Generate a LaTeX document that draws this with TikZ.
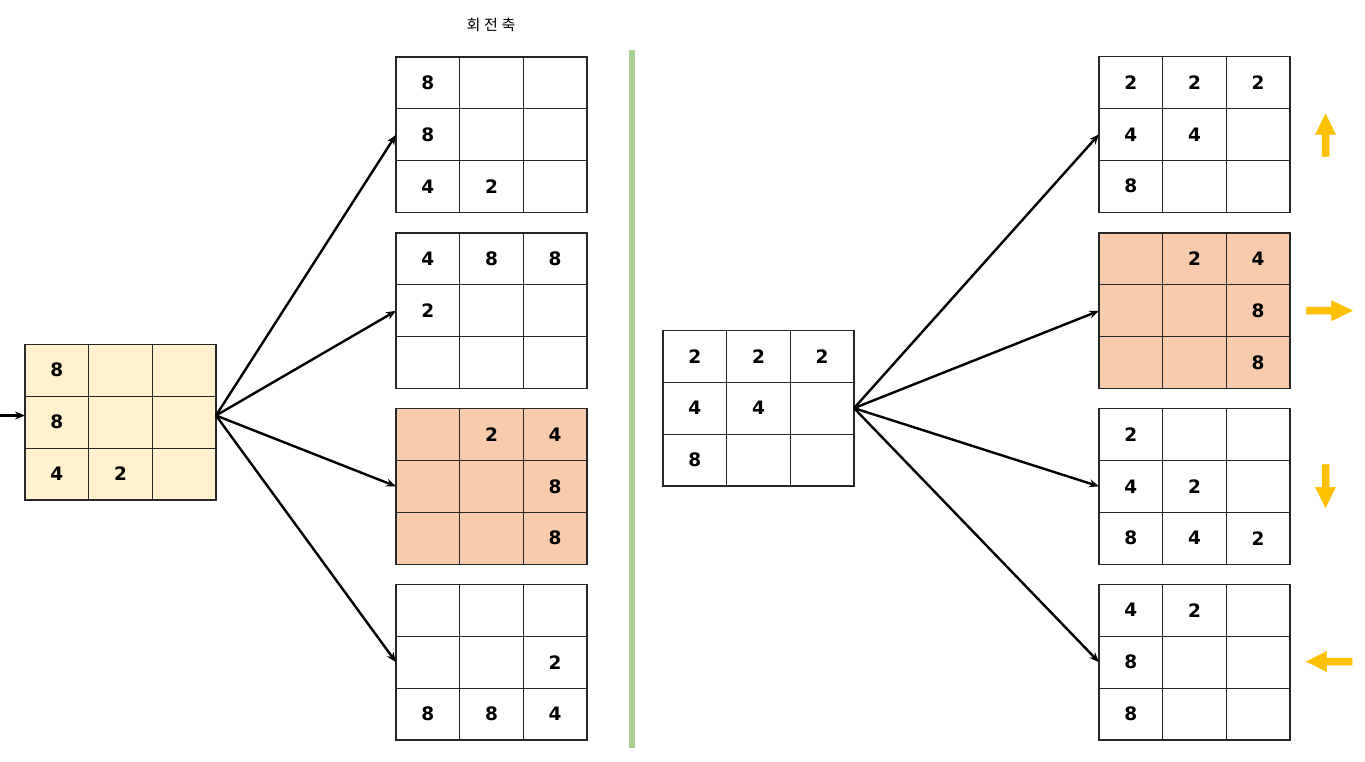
\documentclass[tikz,border=0pt]{standalone}
\usepackage{fontspec}
\setmainfont{DejaVu Sans}
\newfontfamily\krfont[LetterSpace=25]{Noto Sans CJK KR}
\usetikzlibrary{arrows.meta}
\definecolor{cellyellow}{HTML}{FFF2CC}
\definecolor{cellorange}{HTML}{F8CBAD}
\definecolor{sepgreen}{HTML}{A9D18E}
\definecolor{dirarrow}{HTML}{FFC000}
\tikzset{
  cell/.style={draw=black!85, line width=1.1pt, minimum width=63.67pt, minimum height=51.9pt,
    inner sep=0pt, font=\fontsize{18.5}{20}\selectfont\bfseries},
  link/.style={line width=2.4pt, -{Stealth[length=10pt,width=8pt]}},
  dirblock/.style={fill=dirarrow, draw=dirarrow, line width=0.5pt},
}
% #1 name, #2 x, #3 y (top-left), #4 fill, #5 nine entries
\newcommand\board[5]{%
  \foreach \v [count=\k from 0] in {#5} {%
    \pgfmathtruncatemacro\rr{div(\k,3)}%
    \pgfmathtruncatemacro\cc{mod(\k,3)}%
    \node[cell, fill=#4] (#1-\rr-\cc) at (#2+\cc*63.67+31.83, #3+\rr*51.9+25.95) {\v};
  }%
  \coordinate (#1-W) at (#2, #3+77.85);
  \coordinate (#1-E) at (#2+191, #3+77.85);
}
\begin{document}
\begin{tikzpicture}[x=1pt, y=-1pt]
\useasboundingbox (0,0) rectangle (1365,762);

% separator
\draw[sepgreen, line width=6pt] (632,50) -- (632,748);

% title
\node[font=\krfont\fontsize{15}{17}\selectfont] (title) at (491,25) {회전축};

% left source grid
\board{L}{25}{344.3}{cellyellow}{8,,,8,,,4,2,}
\coordinate (L-out) at (216,415.5);
\coordinate (L-in) at (25,415.5);
\coordinate (start) at (0,415.5);

% left results
\board{A1}{396}{57}{white}{8,,,8,,,4,2,}
\board{A2}{396}{233}{white}{4,8,8,2,,,,,}
\board{A3}{396}{408.5}{cellorange}{,2,4,,,8,,,8}
\board{A4}{396}{584.3}{white}{,,,,,2,8,8,4}

% center grid
\board{C}{663}{330.3}{white}{2,2,2,4,4,,8,,}

% right results
\board{B1}{1099}{56.5}{white}{2,2,2,4,4,,8,,}
\board{B2}{1099}{233}{cellorange}{,2,4,,,8,,,8}
\board{B3}{1099}{408.5}{white}{2,,,4,2,,8,4,2}
\board{B4}{1099}{584.3}{white}{4,2,,8,,,8,,}

% connectors
\draw[link] (start) -- (L-in);
\foreach \t in {A1,A2,A3,A4} \draw[link] (L-out) -- (\t-W);
\foreach \t in {B1,B2,B3,B4} \draw[link] (C-E) -- (\t-W);

% direction arrows
\filldraw[dirblock] (1325.5,114) -- (1335.5,134.5) -- (1329,134.5) -- (1329,156.5)
  -- (1322,156.5) -- (1322,134.5) -- (1315.5,134.5) -- cycle;
\filldraw[dirblock] (1352.3,310.7) -- (1331.7,320.7) -- (1331.7,314.2) -- (1306.5,314.2)
  -- (1306.5,307.2) -- (1331.7,307.2) -- (1331.7,300.7) -- cycle;
\filldraw[dirblock] (1325.5,507.5) -- (1335.5,487.3) -- (1329,487.3) -- (1329,464.5)
  -- (1322,464.5) -- (1322,487.3) -- (1315.5,487.3) -- cycle;
\filldraw[dirblock] (1306.7,661.5) -- (1326.7,651.5) -- (1326.7,658) -- (1352,658)
  -- (1352,665) -- (1326.7,665) -- (1326.7,671.5) -- cycle;
\end{tikzpicture}
\end{document}
